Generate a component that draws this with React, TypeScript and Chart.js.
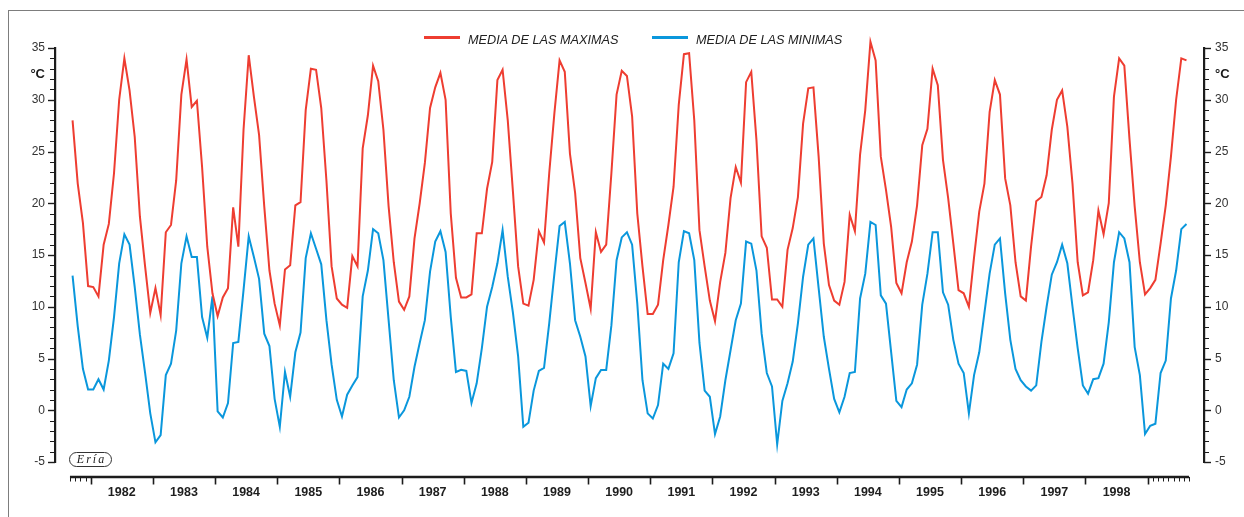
import React, { useEffect, useRef } from 'react';
import { Chart, registerables } from 'chart.js';

Chart.register(...registerables);

// Monthly series, first value = September 1981, last value = August 1999
const maxTemps = [
  28.0, 21.9, 18.1, 12.0,
  11.9, 11.0, 16.0, 18.0, 22.9, 30.0, 34.0, 30.9, 26.4, 18.7, 13.9, 9.4,
  11.8, 9.2, 17.2, 17.9, 22.2, 30.5, 33.9, 29.3, 29.9, 23.5, 15.8, 11.3,
  9.1, 10.9, 11.8, 19.6, 15.8, 27.1, 34.3, 30.3, 26.6, 19.7, 13.5, 10.3,
  8.2, 13.6, 14.0, 19.8, 20.1, 29.0, 33.0, 32.9, 29.2, 22.2, 13.9, 10.8,
  10.2, 9.9, 14.9, 13.9, 25.3, 28.5, 33.3, 31.8, 27.1, 19.7, 14.3, 10.5,
  9.7, 11.0, 16.6, 20.0, 23.9, 29.2, 31.2, 32.6, 30.0, 19.0, 12.8, 10.9,
  10.9, 11.2, 17.1, 17.1, 21.4, 24.0, 31.9, 32.9, 28.0, 21.1, 13.9, 10.3,
  10.1, 12.6, 17.3, 16.2, 22.9, 28.7, 33.8, 32.7, 24.8, 21.0, 14.7, 12.3,
  9.8, 17.2, 15.3, 16.0, 22.9, 30.5, 32.8, 32.3, 28.4, 19.0, 13.9, 9.3,
  9.3, 10.2, 14.5, 17.9, 21.6, 29.5, 34.4, 34.5, 28.0, 17.4, 13.9, 10.6,
  8.6, 12.4, 15.2, 20.5, 23.5, 22.0, 31.7, 32.7, 26.1, 16.8, 15.7, 10.7,
  10.7, 10.0, 15.5, 17.6, 20.6, 27.7, 31.1, 31.2, 24.5, 16.1, 12.1, 10.6,
  10.2, 12.4, 18.9, 17.3, 24.7, 29.0, 35.6, 33.8, 24.5, 21.3, 17.7, 12.3,
  11.3, 14.3, 16.3, 19.8, 25.6, 27.2, 33.0, 31.4, 24.2, 20.5, 16.1, 11.6,
  11.3, 10.0, 14.8, 19.2, 21.9, 28.8, 31.9, 30.5, 22.4, 19.8, 14.3, 11.0,
  10.6, 15.8, 20.2, 20.6, 22.7, 27.1, 30.0, 30.9, 27.4, 21.9, 14.3, 11.1,
  11.4, 14.5, 19.3, 17.0, 20.0, 30.3, 34.0, 33.3, 26.2, 19.7, 14.3, 11.2,
  11.8, 12.6, 16.1, 19.8, 24.5, 30.0, 34.0, 33.8,
];

const minTemps = [
  13.0, 8.1, 4.0, 2.0,
  2.0, 3.0, 2.0, 4.8, 9.0, 14.2, 17.0, 16.0, 11.9, 7.3, 3.6, -0.3,
  -3.1, -2.4, 3.4, 4.5, 7.7, 14.2, 16.8, 14.8, 14.8, 9.0, 7.0, 11.0,
  -0.1, -0.7, 0.7, 6.5, 6.6, 11.6, 16.8, 14.8, 12.7, 7.4, 6.2, 1.1,
  -1.6, 3.7, 1.3, 5.6, 7.5, 14.7, 17.1, 15.6, 14.1, 8.7, 4.4, 1.0,
  -0.6, 1.5, 2.4, 3.2, 11.0, 13.5, 17.5, 17.1, 14.5, 8.7, 2.9, -0.7,
  0.0, 1.3, 4.2, 6.5, 8.7, 13.4, 16.3, 17.3, 15.3, 9.0, 3.7, 3.9,
  3.8, 0.7, 2.6, 6.0, 10.0, 11.9, 14.2, 17.4, 12.9, 9.4, 5.2, -1.6,
  -1.2, 1.9, 3.8, 4.1, 8.4, 13.2, 17.8, 18.2, 14.2, 8.7, 7.1, 5.2,
  0.4, 3.1, 3.9, 3.9, 8.2, 14.5, 16.7, 17.2, 16.0, 10.3, 2.9, -0.3,
  -0.8, 0.5, 4.5, 4.0, 5.5, 14.3, 17.3, 17.1, 14.5, 6.5, 1.9, 1.3,
  -2.3, -0.6, 2.9, 5.8, 8.7, 10.3, 16.3, 16.1, 13.5, 7.4, 3.6, 2.3,
  -3.3, 0.9, 2.6, 4.7, 8.4, 12.9, 16.0, 16.6, 11.8, 7.1, 4.0, 1.1,
  -0.2, 1.3, 3.6, 3.7, 10.8, 13.2, 18.2, 17.9, 11.1, 10.3, 5.6, 0.9,
  0.3, 2.0, 2.6, 4.4, 10.2, 13.2, 17.2, 17.2, 11.4, 10.2, 6.8, 4.5,
  3.6, -0.3, 3.4, 5.6, 9.4, 13.2, 16.0, 16.6, 11.3, 6.8, 4.0, 2.9,
  2.3, 1.9, 2.4, 6.6, 10.0, 13.1, 14.3, 16.0, 14.2, 10.0, 6.0, 2.4,
  1.6, 3.0, 3.1, 4.5, 8.5, 14.3, 17.2, 16.6, 14.3, 6.1, 3.4, -2.3,
  -1.5, -1.3, 3.6, 4.8, 10.8, 13.5, 17.5, 18.0,
];

const seriesNames = ['MEDIA DE LAS MAXIMAS', 'MEDIA DE LAS MINIMAS'];
const yearLabels = [
  '1982', '1983', '1984', '1985', '1986', '1987', '1988', '1989', '1990',
  '1991', '1992', '1993', '1994', '1995', '1996', '1997', '1998',
];
const yTickValues = [-5, 0, 5, 10, 15, 20, 25, 30, 35];
const unitLabel = '°C';
const unitTickValue = 32.4;

const MONTHS_BEFORE_1982 = 4; // Sep–Dec 1981
const AXIS_MONTHS = 216; // Sep 1981 .. Sep 1999 boundary

const RED = '#ee3d31';
const BLUE = '#0a97dc';
const FONT = '"Liberation Sans", Arial, Helvetica, sans-serif';

const X_MIN = -2.889;
const X_MAX = 218.88;

const axesPlugin = {
  id: 'customAxes',
  afterDraw(chart: any) {
    const { ctx, chartArea } = chart;
    const xs = chart.scales.x;
    const yl = chart.scales.y;
    const yr = chart.scales.y2;
    ctx.save();
    ctx.strokeStyle = '#1c1c1c';
    // y ticks (every degree, longer every 5)
    for (let v = yTickValues[0]; v <= yTickValues[yTickValues.length - 1]; v++) {
      const major = v % 5 === 0;
      const py = Math.round(yl.getPixelForValue(v)) + 0.5;
      const len = major ? 7 : 5;
      ctx.lineWidth = major ? 1.4 : 1;
      ctx.beginPath();
      ctx.moveTo(yl.right, py);
      ctx.lineTo(yl.right - len, py);
      ctx.stroke();
      ctx.beginPath();
      ctx.moveTo(yr.left, py);
      ctx.lineTo(yr.left + len, py);
      ctx.stroke();
    }
    // x axis line
    const axisY = chartArea.bottom + 15;
    const x0 = xs.getPixelForValue(0);
    const x1 = xs.getPixelForValue(AXIS_MONTHS);
    ctx.lineWidth = 2.5;
    ctx.beginPath();
    ctx.moveTo(x0, axisY);
    ctx.lineTo(x1, axisY);
    ctx.stroke();
    const lastYearStart = MONTHS_BEFORE_1982 + 12 * yearLabels.length;
    for (let m = 0; m <= AXIS_MONTHS; m++) {
      const isYear = m >= MONTHS_BEFORE_1982 && m <= lastYearStart && (m - MONTHS_BEFORE_1982) % 12 === 0;
      const isMinor = m < MONTHS_BEFORE_1982 || m > lastYearStart;
      if (!isYear && !isMinor) continue;
      const px = Math.round(xs.getPixelForValue(m)) + 0.5;
      ctx.lineWidth = isYear ? 1.6 : 1;
      ctx.beginPath();
      ctx.moveTo(px, axisY);
      ctx.lineTo(px, axisY + (isYear ? 7.5 : 4.5));
      ctx.stroke();
    }
    ctx.restore();
  },
};

function yTicksFor(side: 'left' | 'right') {
  return {
    type: 'linear' as const,
    position: side,
    min: -5,
    max: 35,
    grid: { display: false, drawTicks: false },
    border: { display: true, color: '#1c1c1c', width: 2.2 },
    afterBuildTicks: (s: any) => {
      s.ticks = [...yTickValues.map((v) => ({ value: v })), { value: unitTickValue }];
    },
    afterFit: (s: any) => {
      s.width = side === 'left' ? 55 : 40;
    },
    ticks: {
      autoSkip: false,
      padding: side === 'left' ? 10 : 11,
      color: (c: any) => (c.tick && c.tick.value === unitTickValue ? '#1a1a1a' : '#333333'),
      font: (c: any) =>
        c.tick && c.tick.value === unitTickValue
          ? { family: FONT, size: 13, weight: 'bold' }
          : { family: FONT, size: 12 },
      callback: (v: any) => (v === unitTickValue ? unitLabel : String(v)),
    },
  };
}

export default function App() {
  const canvasRef = useRef<HTMLCanvasElement | null>(null);

  useEffect(() => {
    if (!canvasRef.current) return;
    const chart = new Chart(canvasRef.current, {
      type: 'line',
      data: {
        datasets: [
          {
            label: seriesNames[0],
            data: maxTemps.map((v, i) => ({ x: i + 0.5, y: v })),
            borderColor: RED,
            backgroundColor: RED,
            borderWidth: 2,
            pointRadius: 0,
            tension: 0,
            clip: false,
          },
          {
            label: seriesNames[1],
            data: minTemps.map((v, i) => ({ x: i + 0.5, y: v })),
            borderColor: BLUE,
            backgroundColor: BLUE,
            borderWidth: 2,
            pointRadius: 0,
            tension: 0,
            clip: false,
          },
        ],
      },
      options: {
        responsive: false,
        animation: false,
        events: [],
        layout: { padding: { top: 48, left: 0, right: 0, bottom: 0 } },
        plugins: { legend: { display: false }, tooltip: { enabled: false } },
        scales: {
          x: {
            type: 'linear',
            position: 'bottom',
            min: X_MIN,
            max: X_MAX,
            grid: { display: false, drawTicks: false },
            border: { display: false },
            afterBuildTicks: (s: any) => {
              s.ticks = yearLabels.map((_, k) => ({ value: MONTHS_BEFORE_1982 + 12 * k + 6 }));
            },
            afterFit: (s: any) => {
              s.height = 55;
            },
            ticks: {
              autoSkip: false,
              maxRotation: 0,
              padding: 23,
              color: '#1e1e1e',
              font: { family: FONT, size: 12.5, weight: 'bold' },
              callback: (_v: any, idx: number) => yearLabels[idx],
            },
          },
          y: yTicksFor('left'),
          y2: yTicksFor('right'),
        },
      } as any,
      plugins: [axesPlugin],
    });
    return () => chart.destroy();
  }, []);

  const legendText: React.CSSProperties = {
    position: 'absolute',
    top: 33,
    fontFamily: FONT,
    fontStyle: 'italic',
    fontSize: 12.7,
    lineHeight: '14px',
    color: '#222',
    whiteSpace: 'nowrap',
  };

  return (
    <div style={{ position: 'fixed', left: 0, top: 0, width: 1244, height: 517, background: '#fff', overflow: 'hidden' }}>
      <div
        style={{
          position: 'absolute',
          left: 8,
          top: 10,
          width: 1260,
          height: 530,
          border: '1px solid #7d7d7d',
          boxSizing: 'border-box',
        }}
      />
      <canvas ref={canvasRef} width={1244} height={517} style={{ position: 'absolute', left: 0, top: 0 }} />
      <div style={{ position: 'absolute', left: 424, top: 36, width: 36, height: 2.5, background: RED }} />
      <div style={{ ...legendText, left: 468 }}>{seriesNames[0]}</div>
      <div style={{ position: 'absolute', left: 652, top: 36, width: 36, height: 2.5, background: BLUE }} />
      <div style={{ ...legendText, left: 696 }}>{seriesNames[1]}</div>
      <div
        style={{
          position: 'absolute',
          left: 69,
          top: 452,
          width: 43,
          height: 15,
          boxSizing: 'border-box',
          border: '1px solid #333',
          borderRadius: 8,
          fontFamily: '"Liberation Serif", "Times New Roman", serif',
          fontStyle: 'italic',
          fontSize: 12,
          lineHeight: '13px',
          letterSpacing: 2,
          textAlign: 'center',
          color: '#222',
          paddingLeft: 2,
        }}
      >
        Ería
      </div>
    </div>
  );
}
